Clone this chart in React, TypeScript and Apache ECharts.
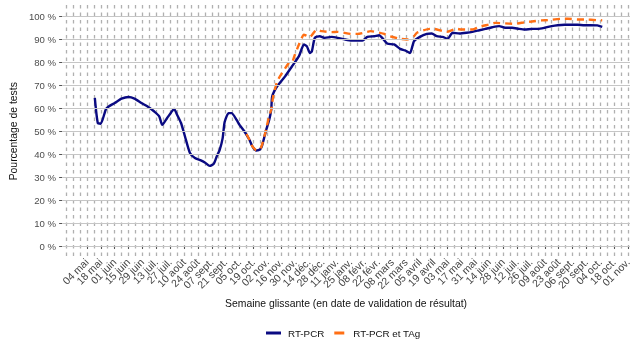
import React, { useEffect, useRef } from "react";
import * as echarts from "echarts";

// Axis extent (daily categories)
const AXIS_START = "2020-04-09";
const AXIS_END = "2021-11-03";
const FIRST_TICK = "2020-05-04";

const tickLabels = [
  "04 mai", "18 mai", "01 juin", "15 juin", "29 juin", "13 juil.", "27 juil.", "10 août", "24 août", "07 sept.",
  "21 sept.", "05 oct.", "19 oct.", "02 nov.", "16 nov.", "30 nov.", "14 déc.", "28 déc.", "11 janv.", "25 janv.",
  "08 févr.", "22 févr.", "08 mars", "22 mars", "05 avril", "19 avril", "03 mai", "17 mai", "31 mai", "14 juin",
  "28 juin", "12 juil.", "26 juil.", "09 août", "23 août", "06 sept.", "20 sept.", "04 oct.", "18 oct.", "01 nov.",
];

const yTicks = [0, 10, 20, 30, 40, 50, 60, 70, 80, 90, 100];

const rtpcrDates = [
  "2020-05-12", "2020-05-15", "2020-05-18", "2020-05-23", "2020-05-26", "2020-06-01", "2020-06-08", "2020-06-15",
  "2020-06-21", "2020-06-28", "2020-07-05", "2020-07-11", "2020-07-16", "2020-07-19", "2020-07-24", "2020-07-28",
  "2020-07-31", "2020-08-03", "2020-08-07", "2020-08-11", "2020-08-16", "2020-08-21", "2020-08-27", "2020-08-31",
  "2020-09-05", "2020-09-09", "2020-09-12", "2020-09-15", "2020-09-18", "2020-09-20", "2020-09-24", "2020-09-27",
  "2020-10-02", "2020-10-05", "2020-10-10", "2020-10-15", "2020-10-18", "2020-10-22", "2020-10-26", "2020-10-28",
  "2020-11-01", "2020-11-04", "2020-11-06", "2020-11-07", "2020-11-12", "2020-11-20", "2020-11-27", "2020-12-04",
  "2020-12-09", "2020-12-12", "2020-12-15", "2020-12-17", "2020-12-20", "2020-12-25", "2020-12-30", "2021-01-06",
  "2021-01-12", "2021-01-19", "2021-01-26", "2021-02-01", "2021-02-06", "2021-02-11", "2021-02-18", "2021-02-23",
  "2021-02-26", "2021-03-03", "2021-03-10", "2021-03-16", "2021-03-21", "2021-03-26", "2021-03-30", "2021-04-05",
  "2021-04-12", "2021-04-17", "2021-04-22", "2021-04-28", "2021-05-03", "2021-05-08", "2021-05-15", "2021-05-22",
  "2021-05-28", "2021-06-04", "2021-06-10", "2021-06-17", "2021-06-24", "2021-06-30", "2021-07-07", "2021-07-14",
  "2021-07-20", "2021-07-27", "2021-08-02", "2021-08-09", "2021-08-16", "2021-08-22", "2021-08-29", "2021-09-04",
  "2021-09-11", "2021-09-18", "2021-09-24", "2021-10-01", "2021-10-06",
];
const rtpcrValues = [
  64.5, 53.6, 53.3, 59.4, 60.8, 62.3, 64.2, 64.9, 64.2, 62.3, 60.6, 58.6, 56.5, 52.8, 55.8, 58.2, 59.7, 57.2, 53.6,
  47.7, 40.5, 38.3, 37.3, 36.4, 34.9, 35.8, 39, 41.9, 47, 54, 57.9, 57.9, 55, 52.8, 49.9, 46.3, 43.4, 41.6, 42.2,
  44.1, 50.7, 55, 59.4, 65.2, 69.6, 73.9, 78.3, 82.7, 87.8, 87, 84.1, 84.8, 90.7, 91.4, 90.7, 91.1, 90.7, 90, 89.5,
  89.5, 89.5, 91.1, 91.4, 91.8, 90.7, 88.2, 87.8, 85.9, 85.2, 84.1, 89.2, 91.1, 92.4, 92.6, 91.4, 91.1, 90.3, 92.9,
  92.6, 92.9, 93.3, 94, 94.6, 95.3, 95.8, 95.1, 95.1, 94.6, 94.3, 94.6, 94.6, 95.1, 95.8, 96.2, 96.4, 96.4, 96.4,
  96.2, 96.2, 96.1, 95.5,
];

const tagDates = [
  "2020-10-12", "2020-10-15", "2020-10-18", "2020-10-22", "2020-10-26", "2020-10-28", "2020-11-01", "2020-11-03",
  "2020-11-06", "2020-11-08", "2020-11-12", "2020-11-17", "2020-11-24", "2020-11-27", "2020-11-30", "2020-12-04",
  "2020-12-09", "2020-12-12", "2020-12-15", "2020-12-22", "2020-12-27", "2021-01-06", "2021-01-12", "2021-01-26",
  "2021-02-01", "2021-02-11", "2021-02-14", "2021-02-28", "2021-03-03", "2021-03-16", "2021-03-23", "2021-03-30",
  "2021-04-02", "2021-04-15", "2021-04-19", "2021-04-28", "2021-05-02", "2021-05-12", "2021-05-17", "2021-05-28",
  "2021-06-04", "2021-06-14", "2021-06-20", "2021-07-04", "2021-07-10", "2021-07-20", "2021-07-27", "2021-08-06",
  "2021-08-12", "2021-08-26", "2021-09-01", "2021-09-11", "2021-09-18", "2021-10-01", "2021-10-06",
];
const tagValues = [
  48.8, 46.3, 43.4, 41.8, 42.4, 44.5, 51, 55, 59.5, 65.2, 71.7, 75.4, 79.8, 80, 83.5, 87.8, 92.1, 91.5, 91.1, 94.3,
  93.6, 93.2, 93.3, 92.4, 92.4, 93.3, 93.6, 92.4, 91.7, 90.3, 90, 91.4, 92.9, 94.6, 94.6, 93.6, 93.3, 94.6, 94.3,
  94.3, 95.5, 96.5, 97.2, 96.9, 96.8, 97.5, 97.8, 98.3, 98.4, 99, 99, 98.7, 98.7, 98.4, 98.3,
];

function dayNum(s: string): number {
  const [y, m, d] = s.split("-").map(Number);
  return Math.round(Date.UTC(y, m - 1, d) / 86400000);
}
function iso(n: number): string {
  return new Date(n * 86400000).toISOString().slice(0, 10);
}

const FONT = "'Liberation Sans', Arial, Helvetica, sans-serif";

export default function App() {
  const ref = useRef<HTMLDivElement>(null);

  useEffect(() => {
    if (!ref.current) return;
    const chart = echarts.init(ref.current, undefined, { renderer: "svg" });

    const s0 = dayNum(AXIS_START);
    const s1 = dayNum(AXIS_END);
    const categories: string[] = [];
    for (let n = s0; n <= s1; n++) categories.push(iso(n));
    const N = categories.length;
    const firstIdx = dayNum(FIRST_TICK) - s0;

    const isLabel = (i: number) => {
      const k = i - firstIdx;
      return k >= 0 && k % 14 === 0 && k / 14 < tickLabels.length;
    };
    // empty guard labels at both ends so the edge overlap check drops them instead of real labels
    const isLabelSlot = (i: number) => isLabel(i) || i === firstIdx - 14 || i === N - 1;
    const isGrid = (i: number) => (((i - firstIdx) % 7) + 7) % 7 === 0;

    const blue = "#0a0a82";
    const orange = "#ff6f14";

    chart.setOption({
      animation: false,
      textStyle: { fontFamily: FONT },
      grid: { left: 53, right: 5, top: 5, bottom: 95.5, containLabel: false },
      legend: {
        data: [
          { name: "RT-PCR", icon: "rect" },
          { name: "RT-PCR et TAg", icon: "path://M0,1.5L0,1.5M3,0H13V3H3ZM15,1.5L15,1.5" },
        ],
        left: 266,
        top: 328,
        padding: 0,
        itemWidth: 15,
        itemHeight: 3,
        itemGap: 7,
        textStyle: { fontSize: 9.8, color: "#111", fontFamily: FONT, padding: [0, 0, 0, 2] },
      },
      xAxis: {
        type: "category",
        data: categories,
        boundaryGap: false,
        axisLine: { show: false },
        axisTick: { show: true, interval: (i: number) => isLabel(i), length: 3, lineStyle: { color: "#555" } },
        axisLabel: {
          interval: (i: number) => isLabelSlot(i),
          rotate: 45,
          margin: 3,
          fontSize: 10.5,
          color: "#444",
          fontFamily: FONT,
          formatter: (_v: string, i: number) => {
            if (!isLabel(i)) return "";
            return tickLabels[(i - firstIdx) / 14] ?? "";
          },
        },
        splitLine: {
          show: true,
          interval: (i: number) => isGrid(i),
          lineStyle: { type: [3.5, 4], color: "#b0b0b0", width: 1.3 },
        },
        name: "Semaine glissante (en date de validation de résultat)",
        nameLocation: "middle",
        nameGap: 35,
        nameTextStyle: { fontSize: 10.4, color: "#111", fontFamily: FONT },
      },
      yAxis: {
        type: "value",
        min: -5,
        max: 105,
        interval: 5,
        axisLine: { show: false },
        splitLine: { show: false },
        axisTick: { show: true, length: 3, lineStyle: { color: "#555" }, customValues: yTicks },
        axisLabel: {
          customValues: yTicks,
          margin: 6,
          fontSize: 9.6,
          color: "#4d4d4d",
          fontFamily: FONT,
          formatter: (v: number) => (v % 10 === 0 && v >= 0 && v <= 100 ? `${v} %` : ""),
        },
        name: "Pourcentage de tests",
        nameLocation: "middle",
        nameGap: 42,
        nameTextStyle: { fontSize: 10.4, color: "#111", fontFamily: FONT },
      },
      series: [
        {
          name: "grid",
          type: "line",
          data: [],
          silent: true,
          z: 1,
          markLine: {
            silent: true,
            symbol: "none",
            label: { show: false },
            lineStyle: { color: "#c6c6c6", type: "solid", width: 1.1 },
            data: yTicks.map((v) => ({ yAxis: v })),
          },
        },
        {
          name: "RT-PCR",
          type: "line",
          data: rtpcrDates.map((d, i) => [d, rtpcrValues[i]]),
          showSymbol: false,
          symbol: "none",
          smooth: 0.2,
          z: 3,
          lineStyle: { color: blue, width: 2.4 },
          itemStyle: { color: blue },
        },
        {
          name: "RT-PCR et TAg",
          type: "line",
          data: tagDates.map((d, i) => [d, tagValues[i]]),
          showSymbol: false,
          symbol: "none",
          smooth: 0.2,
          z: 4,
          lineStyle: { color: orange, width: 2.4, type: [7, 5] },
          itemStyle: { color: orange },
        },
      ],
    });

    return () => chart.dispose();
  }, []);

  return <div ref={ref} style={{ position: "fixed", left: 0, top: 0, width: 635, height: 353 }} />;
}
